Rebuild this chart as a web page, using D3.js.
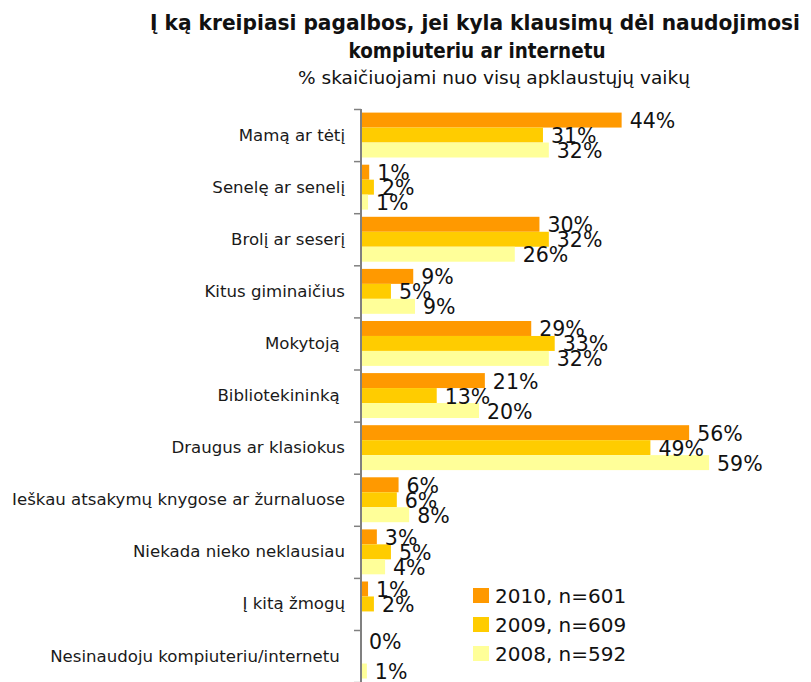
<!DOCTYPE html>
<html>
<head>
<meta charset="utf-8">
<script src="https://cdn.jsdelivr.net/npm/d3@7"></script>
<style>
  body { margin: 0; background: #fff; }
  .labelCat { font-family: "DejaVu Sans", Verdana, sans-serif; font-size: 16.6px; fill: #1a1a1a; }
  .labelVal { font-family: "DejaVu Sans", Verdana, sans-serif; font-size: 20.5px; fill: #111; }
  .legendText { font-family: "DejaVu Sans", Verdana, sans-serif; font-size: 20px; fill: #111; }
  .title { font-family: "DejaVu Sans", Verdana, sans-serif; font-weight: bold; font-size: 22px; fill: #111; }
  .subtitle { font-family: "DejaVu Sans", Verdana, sans-serif; font-size: 17.5px; fill: #111; }
</style>
</head>
<body>
<svg id="chart" width="811" height="682"></svg>
<script>

var categories = [
  "Mamą ar tėtį",
  "Senelę ar senelį",
  "Brolį ar seserį",
  "Kitus giminaičius",
  "Mokytoją\u00a0",
  "Bibliotekininką\u00a0",
  "Draugus ar klasiokus",
  "Ieškau atsakymų knygose ar žurnaluose",
  "Niekada nieko neklausiau",
  "Į kitą žmogų",
  "Nesinaudoju kompiuteriu/internetu\u00a0"
];

var seriesNames = ["2010, n=601", "2009, n=609", "2008, n=592"];

var values2010 = [44.4, 1.4, 30.4, 8.9, 29.0, 21.1, 55.9, 6.4, 2.7, 1.2, 0];
var values2009 = [31.0, 2.2, 32.0, 5.1, 33.0, 12.9, 49.3, 6.1, 5.1, 2.2, null];
var values2008 = [32.0, 1.2, 26.2, 9.2, 32.0, 20.1, 59.3, 8.2, 4.1, null, 1.0];

var colors = ["#ff9900", "#ffcc00", "#ffff99"];

/************************************************************************************************************/

var svg = d3.select("#chart");
svg.margin = {left: 361, top: 109};

var allSeries = [values2010, values2009, values2008];

var x = d3.scaleLinear().domain([0, 100]).range([svg.margin.left, svg.margin.left + 587]);

var y = d3.scaleBand().domain(categories)
  .range([svg.margin.top, svg.margin.top + 52.1 * categories.length]);

var yInner = d3.scaleBand().domain(d3.range(seriesNames.length))
  .range([0, y.bandwidth()]).paddingOuter(0.24);

//Titles
svg.append("text").attr("class", "title").attr("x", 475).attr("y", 30)
  .attr("text-anchor", "middle").attr("textLength", 650).attr("lengthAdjust", "spacingAndGlyphs")
  .text("Į ką kreipiasi pagalbos, jei kyla klausimų dėl naudojimosi");
svg.append("text").attr("class", "title").attr("x", 477).attr("y", 58)
  .attr("text-anchor", "middle").attr("textLength", 257).attr("lengthAdjust", "spacingAndGlyphs")
  .text("kompiuteriu ar internetu");
svg.append("text").attr("class", "subtitle").attr("x", 494).attr("y", 84)
  .attr("text-anchor", "middle").attr("textLength", 392).attr("lengthAdjust", "spacingAndGlyphs")
  .text("% skaičiuojami nuo visų apklaustųjų vaikų");

//Bars
var groups = svg.append("g").selectAll("g")
  .data(categories)
  .join("g")
  .attr("transform", function(d){ return "translate(0," + y(d) + ")"; });

groups.each(function(cat, ci){
  var g = d3.select(this);
  var rows = allSeries.map(function(s, si){ return {s: si, v: s[ci]}; })
    .filter(function(d){ return d.v !== null; });

  g.selectAll("rect").data(rows).join("rect")
    .attr("x", x(0))
    .attr("y", function(d){ return yInner(d.s); })
    .attr("width", function(d){ return x(d.v) - x(0); })
    .attr("height", yInner.bandwidth())
    .attr("fill", function(d){ return colors[d.s]; });

  g.selectAll("text").data(rows).join("text")
    .attr("class", "labelVal")
    .attr("x", function(d){ return x(d.v) + 8; })
    .attr("y", function(d){ return yInner(d.s) + yInner.bandwidth() / 2 + 1; })
    .attr("dominant-baseline", "central")
    .text(function(d){ return Math.round(d.v) + "%"; });
});

//Category labels
svg.append("g").selectAll("text")
  .data(categories)
  .join("text")
  .attr("class", "labelCat")
  .attr("x", svg.margin.left - 16)
  .attr("y", function(d){ return y(d) + y.bandwidth() / 2; })
  .attr("text-anchor", "end")
  .attr("dominant-baseline", "central")
  .text(function(d){ return d; });

//Axis line and ticks between groups
var axis = svg.append("g").attr("stroke", "#808080");
axis.append("line")
  .attr("x1", svg.margin.left).attr("x2", svg.margin.left)
  .attr("y1", y.range()[0]).attr("y2", y.range()[1])
  .attr("stroke-width", 2);
axis.selectAll(".tk")
  .data(categories.concat(["end"]))
  .join("line").attr("class", "tk")
  .attr("x1", svg.margin.left - 7).attr("x2", svg.margin.left)
  .attr("y1", function(d, i){ return y.range()[0] + i * y.step() + 0.5; })
  .attr("y2", function(d, i){ return y.range()[0] + i * y.step() + 0.5; })
  .attr("stroke-width", 1.5);

//Legend
var legend = svg.append("g").attr("transform", "translate(473,588)");
var items = legend.selectAll("g").data(seriesNames).join("g")
  .attr("transform", function(d, i){ return "translate(0," + (i * 29) + ")"; });
items.append("rect").attr("width", 16).attr("height", 15)
  .attr("fill", function(d, i){ return colors[i]; });
items.append("text").attr("class", "legendText")
  .attr("x", 22).attr("y", 8).attr("dominant-baseline", "central")
  .text(function(d){ return d; });

</script>
</body>
</html>
